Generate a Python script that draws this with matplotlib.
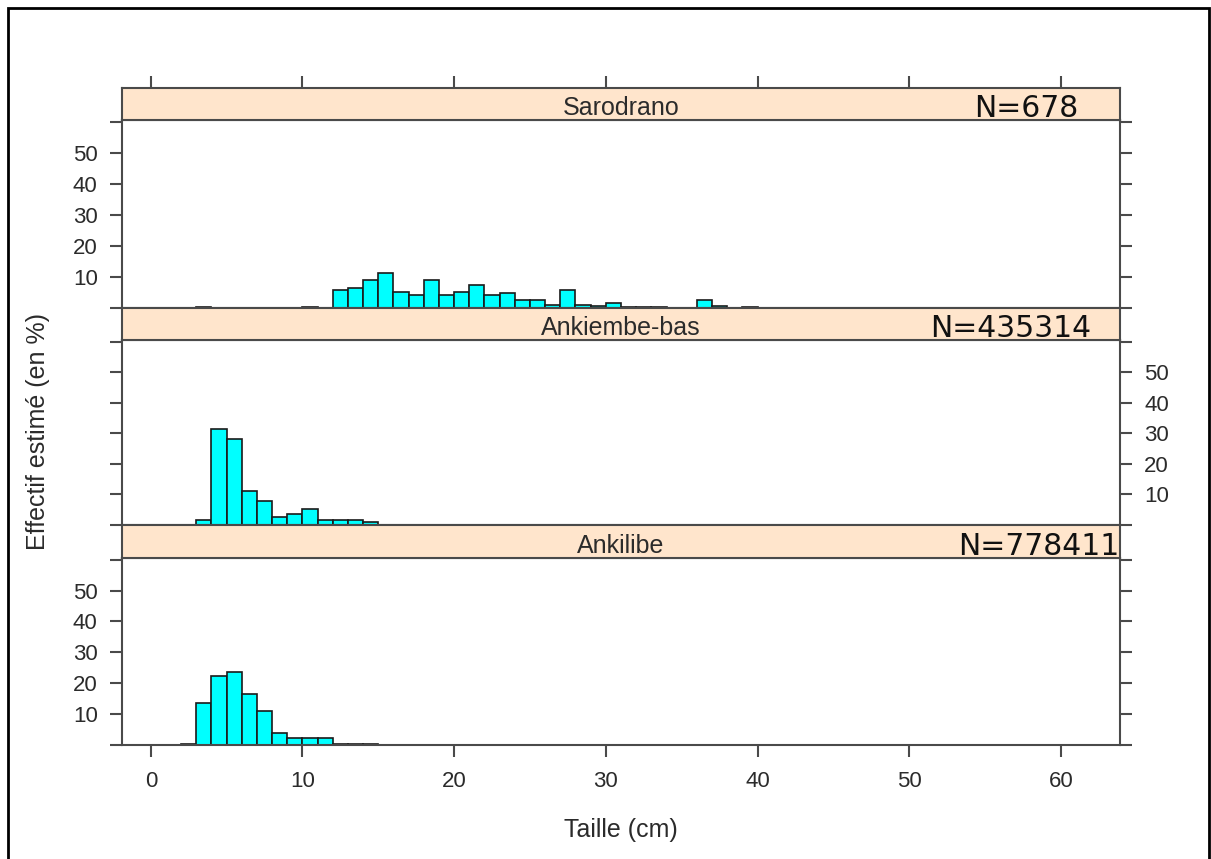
import matplotlib.pyplot as plt
from matplotlib.patches import Rectangle

# Size-frequency data (percent per 1 cm class)
sites = ["Sarodrano", "Ankiembe-bas", "Ankilibe"]
site_n = ["N=678", "N=435314", "N=778411"]
n_label_x = [54.3, 51.35, 53.2]

saro_bins = [3, 10] + list(range(12, 34)) + [36, 37, 39]
saro_pct = [0.4, 0.4,
            5.8, 6.4, 9.0, 11.4, 5.0, 4.3, 9.0, 4.3, 5.0, 7.5, 4.3,
            4.8, 2.7, 2.7, 1.1, 5.8, 1.0, 0.8, 1.5, 0.4, 0.4, 0.4,
            2.6, 0.5, 0.4]

ankiembe_bins = list(range(3, 15))
ankiembe_pct = [1.6, 31.4, 28.2, 11.2, 7.7, 2.6, 3.7, 5.2, 1.5, 1.5, 1.5, 1.1]

ankilibe_bins = list(range(2, 15))
ankilibe_pct = [0.4, 13.6, 22.4, 23.7, 16.5, 11.0, 3.8, 2.2, 2.2, 2.2, 0.4, 0.4, 0.4]

bins = [saro_bins, ankiembe_bins, ankilibe_bins]
pcts = [saro_pct, ankiembe_pct, ankilibe_pct]

x_ticks = [0, 10, 20, 30, 40, 50, 60]
y_ticks = [0, 10, 20, 30, 40, 50, 60]
y_labels = ["", "10", "20", "30", "40", "50", ""]

plt.rcParams["font.family"] = ["Liberation Sans", "DejaVu Sans"]
line_col = "#4a4a4a"
text_col = "#2b2b2b"
strip_col = "#FFE5CC"
bar_col = "#00FFFF"

W, H = 1211, 859
fig = plt.figure(figsize=(W / 100, H / 100), dpi=100)

# outer frame
fig.patches.append(Rectangle((8 / W, -0.01), (1209 - 8) / W, 1.01 - 8 / H,
                             transform=fig.transFigure, fill=False,
                             edgecolor="black", linewidth=2))

left = 122 / W
width = (1120 - 122) / W
# (plot_top, plot_bottom, strip_top) in pixels
panels = [(120, 308, 88), (340, 525, 308), (558, 745, 525)]

for i, (top, bottom, strip_top) in enumerate(panels):
    ax = fig.add_axes([left, (H - bottom) / H, width, (bottom - top) / H])
    ax.bar(bins[i], pcts[i], width=1, align="edge", color=bar_col,
           edgecolor="#1a1a1a", linewidth=1.2)
    ax.set_xlim(-1.9, 63.9)
    ax.set_ylim(0, 60.55)
    ax.set_yticks(y_ticks)
    ax.set_yticklabels(y_labels)
    for sp in ax.spines.values():
        sp.set_color(line_col)
        sp.set_linewidth(1.5)
    ax.tick_params(axis="both", direction="out", length=8.5, width=1.5,
                   color=line_col, labelcolor=text_col, labelsize=16, pad=9)
    label_right = (i == 1)
    ax.tick_params(axis="y", left=True, right=True,
                   labelleft=not label_right, labelright=label_right)
    if i == 2:
        ax.set_xticks(x_ticks)
        ax.tick_params(axis="x", bottom=True, labelbottom=True, pad=10)
    else:
        ax.set_xticks([])

    # strip
    sax = fig.add_axes([left, (H - top) / H, width, (top - strip_top) / H])
    sax.set_facecolor(strip_col)
    sax.set_xlim(-1.9, 63.9)
    sax.set_ylim(0, 1)
    sax.set_yticks([])
    for sp in sax.spines.values():
        sp.set_color(line_col)
        sp.set_linewidth(1.5)
    if i == 0:
        sax.set_xticks(x_ticks)
        sax.tick_params(axis="x", top=True, bottom=False, labeltop=False,
                        labelbottom=False, direction="out", length=9,
                        width=1.5, color=line_col)
    else:
        sax.set_xticks([])
    sax.text(0.5, 0.36, sites[i], transform=sax.transAxes, ha="center",
             va="center", fontsize=18, color=text_col)
    sax.text(n_label_x[i], 0.36, site_n[i], ha="left", va="center",
             fontsize=21.5, color="#111111", family="DejaVu Sans")

fig.text(38 / W, (H - 431) / H, "Effectif estimé (en %)", rotation=90,
         ha="center", va="center", fontsize=18, color=text_col)
fig.text(621 / W, (H - 830) / H, "Taille (cm)", ha="center", va="center",
         fontsize=18, color=text_col)

fig.savefig("out.png", dpi=100)
